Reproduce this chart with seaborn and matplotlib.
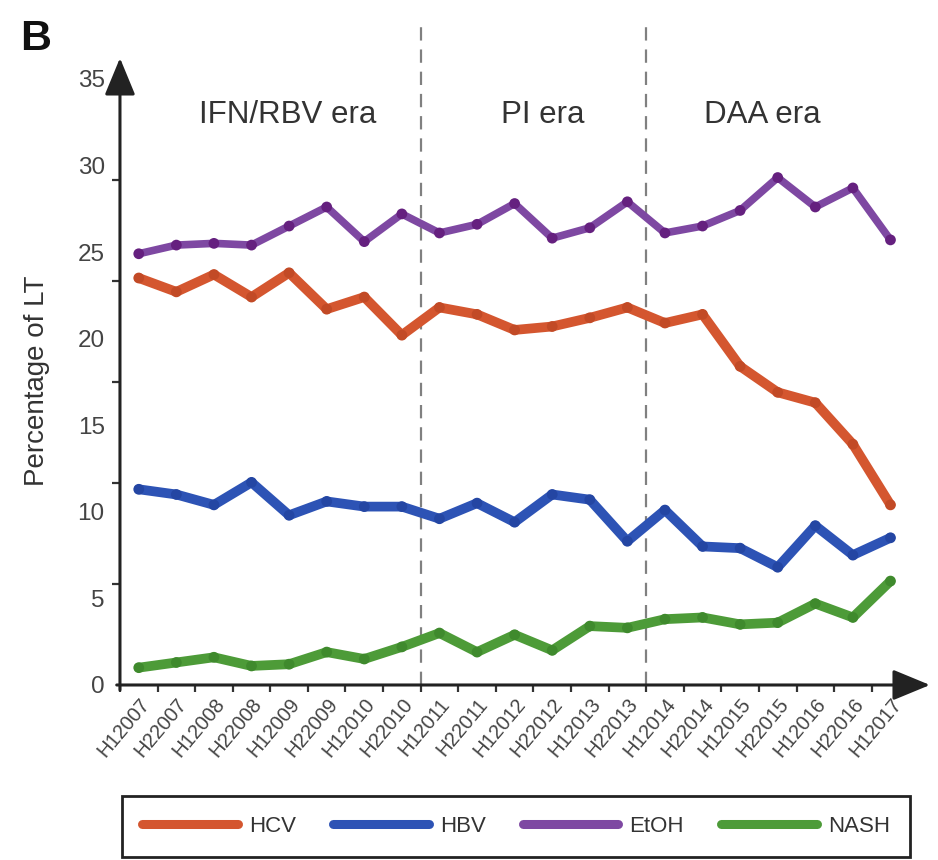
import numpy as np
import pandas as pd
import seaborn as sns
import matplotlib.pyplot as plt
from matplotlib.lines import Line2D

# Half-year periods on the x axis
periods = ["H12007", "H22007", "H12008", "H22008", "H12009", "H22009", "H12010",
           "H22010", "H12011", "H22011", "H12012", "H22012", "H12013", "H22013",
           "H12014", "H22014", "H12015", "H22015", "H12016", "H22016", "H12017"]

# Percentage of liver transplants by indication
hcv = [23.5, 22.7, 23.7, 22.4, 23.8, 21.7, 22.4, 20.2, 21.8, 21.4, 20.5,
       20.7, 21.2, 21.8, 20.9, 21.4, 18.4, 16.9, 16.3, 13.9, 10.4]
hbv = [11.3, 11.0, 10.4, 11.7, 9.8, 10.6, 10.3, 10.3, 9.6, 10.5, 9.4,
       11.0, 10.7, 8.3, 10.1, 8.0, 7.9, 6.8, 9.2, 7.5, 8.5]
etoh = [24.9, 25.4, 25.5, 25.4, 26.5, 27.6, 25.6, 27.2, 26.1, 26.6, 27.8,
        25.8, 26.4, 27.9, 26.1, 26.5, 27.4, 29.3, 27.6, 28.7, 25.7]
nash = [1.0, 1.3, 1.6, 1.1, 1.2, 1.9, 1.5, 2.2, 3.0, 1.9, 2.9,
        2.0, 3.4, 3.3, 3.8, 3.9, 3.5, 3.6, 4.7, 3.9, 6.0]

causes = ["HCV", "HBV", "EtOH", "NASH"]
eras = ["IFN/RBV era", "PI era", "DAA era"]
era_breaks = [7.5, 13.5]

line_colors = {"HCV": "#D4562F", "HBV": "#2D53B5", "EtOH": "#7E48A2", "NASH": "#4D9B38"}
dot_colors = {"HCV": "#C24A26", "HBV": "#2446A3", "EtOH": "#65207F", "NASH": "#3F8A2D"}
line_widths = {"HCV": 7, "HBV": 7, "EtOH": 5.5, "NASH": 7}

pos = np.arange(len(periods))
df = pd.concat([
    pd.DataFrame({"pos": pos, "period": periods, "pct": vals, "cause": name})
    for name, vals in zip(causes, [hcv, hbv, etoh, nash])
], ignore_index=True)

sns.set_theme(style="white")
plt.rcParams["font.family"] = ["Liberation Sans", "DejaVu Sans"]

fig = plt.figure(figsize=(9.38, 8.6), dpi=100)
ax = fig.add_axes([0.1279, 0.2035, 0.8635, 0.729])

sns.lineplot(data=df, x="pos", y="pct", hue="cause", hue_order=causes,
             palette=line_colors, legend=False, ax=ax, sort=False, zorder=2)
for line, name in zip(ax.lines, causes):
    line.set_linewidth(line_widths[name])
    line.set_solid_capstyle("round")
    line.set_solid_joinstyle("round")

sns.scatterplot(data=df, x="pos", y="pct", hue="cause", hue_order=causes,
                palette=dot_colors, s=60, linewidth=0, legend=False, ax=ax, zorder=3)

# Era separators
for b in era_breaks:
    ax.axvline(b, ymin=0, ymax=1.053, color="#808080", lw=1.6,
               ls=(0, (6, 4)), clip_on=False, zorder=1)

ax.set_xlim(-0.5, 21.05)
ax.set_ylim(0, 36.2)

# Axes drawn as arrows
for s in ax.spines.values():
    s.set_visible(False)
arrow_style = dict(arrowstyle="-|>,head_length=2.3,head_width=0.95",
                   mutation_scale=10, lw=2.2, color="#222222",
                   shrinkA=0, shrinkB=0)
ax.annotate("", xy=(1, 0), xytext=(-0.004, 0), xycoords="axes fraction",
            arrowprops=arrow_style, annotation_clip=False)
ax.annotate("", xy=(0, 1), xytext=(0, -0.008), xycoords="axes fraction",
            arrowprops=arrow_style, annotation_clip=False)

# y ticks: labels every 5, marks split the axis in six
ax.set_yticks(np.arange(0, 36, 5))
ax.set_yticks(np.arange(6) * 35 / 6, minor=True)
ax.tick_params(axis="y", which="major", length=0, pad=11, labelsize=17.5,
               labelcolor="#444444", left=True)
ax.tick_params(axis="y", which="minor", length=6, width=1.6, color="#333333",
               direction="out", left=True)

# x ticks: labels under each period, marks between periods
ax.set_xticks(pos)
ax.set_xticklabels(periods, rotation=50, ha="right", va="top",
                   rotation_mode="anchor", color="#444444", fontsize=14.5)
ax.set_xticks(np.arange(-0.5, 20, 1), minor=True)
ax.tick_params(axis="x", which="major", length=0, pad=7, bottom=True)
ax.tick_params(axis="x", which="minor", length=5, width=1.6, color="#333333",
               direction="out", bottom=True)

ax.set_xlabel("")
ax.set_ylabel("")
fig.text(37 / 938, 1 - 381 / 860, "Percentage of LT", rotation=90,
         ha="center", va="center", fontsize=20, color="#333333")

for label, xc in zip(eras, [3.96, 10.75, 16.6]):
    ax.text(xc, 32.9, label, ha="center", va="center", fontsize=22.5, color="#333333")

fig.text(20 / 938, 1 - 50 / 860, "B", fontsize=31, fontweight="bold",
         color="#111111", ha="left", va="baseline")

handles = [Line2D([0], [0], color=line_colors[c], lw=6.5, solid_capstyle="round")
           for c in causes]
leg = fig.legend(handles, causes, loc="center", ncol=4, mode="expand",
                 bbox_to_anchor=(122 / 938, 2 / 860, 788 / 938, 64 / 860),
                 handlelength=4.3, handletextpad=0.5, fontsize=16,
                 borderpad=0.9, frameon=True, fancybox=False, framealpha=1,
                 borderaxespad=0, labelcolor="#333333")
leg.get_frame().set_edgecolor("#222222")
leg.get_frame().set_linewidth(2)

fig.savefig("out.png", dpi=100)
